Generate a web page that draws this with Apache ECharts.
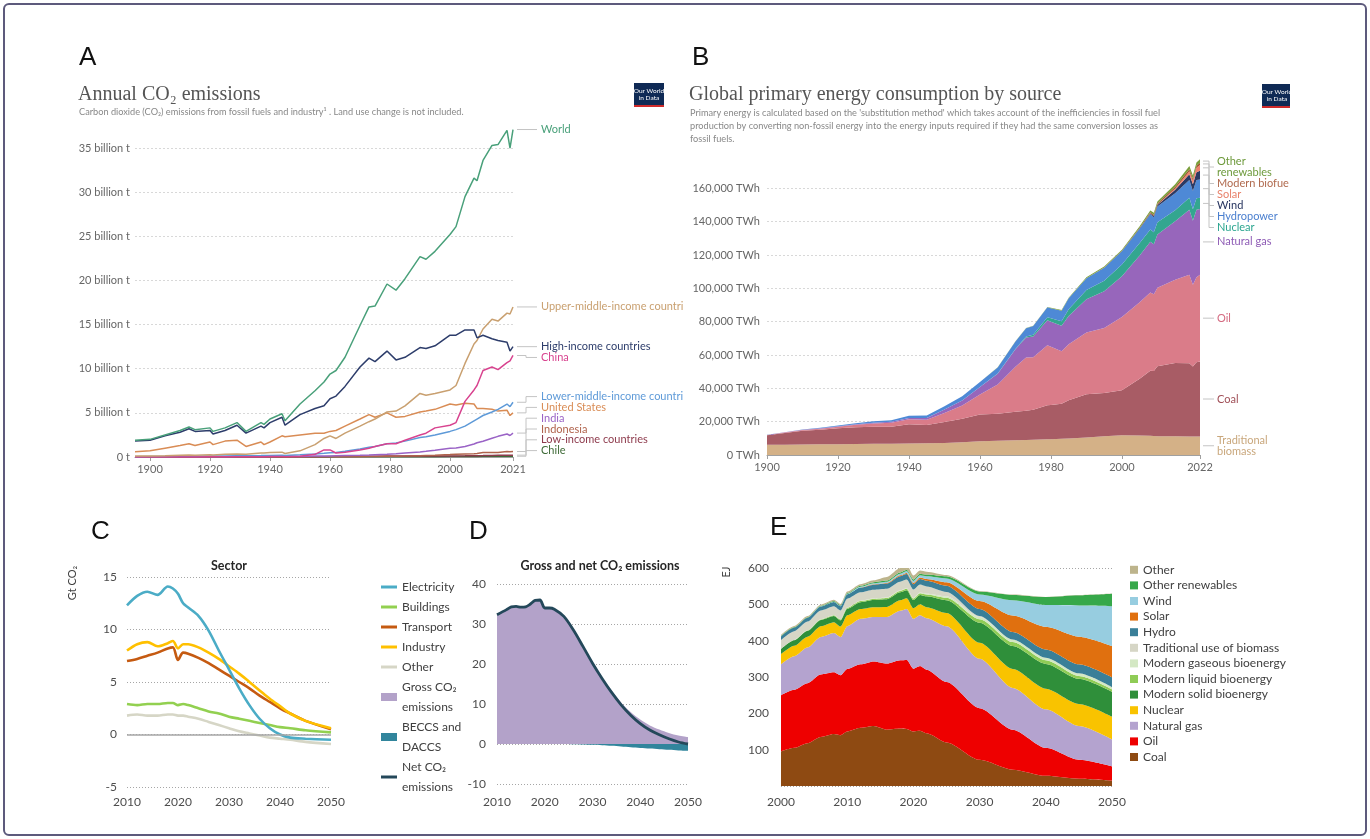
<!DOCTYPE html>
<html><head><meta charset="utf-8">
<script src="https://cdn.jsdelivr.net/npm/echarts@6.0.0/dist/echarts.min.js"></script>
<style>html,body{margin:0;padding:0;background:#fff}#c{width:1370px;height:839px}</style>
</head><body><div id="c"></div>
<script>
// ---------- Panel A: Annual CO2 emissions (billion t) ----------
const aYears = [1895,1900,1905,1910,1913,1915,1920,1921,1925,1929,1932,1937,1938,1940,1944,1945,1950,1955,1958,1960,1962,1965,1970,1973,1975,1979,1982,1985,1990,1992,1995,2000,2002,2005,2008,2009,2011,2014,2016,2019,2020,2021];
const aTicks = [1900,1920,1940,1960,1980,2000,2021];
const aWorld = [1.9,2.0,2.5,3.0,3.4,3.1,3.3,2.9,3.3,3.9,2.9,3.9,3.7,4.3,4.9,4.1,6.0,7.5,8.5,9.4,9.8,11.3,14.9,17.0,17.1,19.6,18.9,20.2,22.7,22.4,23.3,25.2,26.1,29.5,31.6,31.3,33.6,35.3,35.4,37.0,35.0,37.1];
const aHigh = [1.8,1.9,2.4,2.8,3.2,2.9,3.0,2.6,3.0,3.6,2.7,3.5,3.3,3.9,4.5,3.6,4.8,5.5,5.8,6.6,6.9,8.0,10.2,11.2,10.8,12.0,11.0,11.3,12.4,12.3,12.6,13.8,13.8,14.4,14.4,13.5,13.8,13.4,13.2,13.0,12.0,12.5];
const aUpperMid = [0.1,0.12,0.15,0.2,0.22,0.2,0.25,0.22,0.3,0.35,0.3,0.45,0.45,0.5,0.55,0.4,0.7,1.4,2.1,2.4,2.1,2.7,3.5,4.0,4.3,5.1,5.2,5.8,7.2,7.0,7.2,7.6,8.1,10.6,12.8,13.2,14.5,15.6,15.4,16.3,16.2,17.0];
const aUS = [0.6,0.7,1.0,1.3,1.5,1.3,1.7,1.4,1.8,1.9,1.2,1.7,1.4,1.7,2.4,2.3,2.5,2.7,2.7,2.9,3.0,3.5,4.3,4.8,4.5,5.0,4.5,4.6,5.1,5.2,5.4,6.0,5.9,6.1,6.0,5.5,5.5,5.4,5.2,5.3,4.7,5.0];
const aChina = [0,0,0,0,0.01,0.01,0.02,0.02,0.03,0.03,0.03,0.04,0.04,0.05,0.06,0.03,0.08,0.3,0.8,0.8,0.45,0.55,0.8,1.0,1.2,1.5,1.5,1.9,2.5,2.7,3.3,3.6,3.9,6.3,7.6,8.1,9.8,10.2,9.9,10.7,10.9,11.5];
const aLowerMid = [0.04,0.05,0.06,0.08,0.09,0.09,0.1,0.1,0.12,0.14,0.13,0.16,0.17,0.18,0.2,0.18,0.25,0.35,0.42,0.48,0.52,0.65,0.9,1.1,1.2,1.5,1.6,1.8,2.2,2.3,2.5,2.9,3.1,3.5,4.1,4.3,4.7,5.1,5.4,6.0,5.7,6.2];
const aIndia = [0.01,0.02,0.02,0.03,0.03,0.03,0.04,0.04,0.04,0.05,0.05,0.06,0.06,0.07,0.08,0.08,0.07,0.1,0.11,0.12,0.14,0.17,0.2,0.23,0.26,0.32,0.37,0.45,0.58,0.64,0.76,0.98,1.02,1.2,1.47,1.62,1.78,2.12,2.34,2.6,2.44,2.71];
const aIndonesia = [0,0,0,0,0.002,0.002,0.003,0.003,0.004,0.005,0.005,0.006,0.006,0.007,0.005,0.004,0.01,0.015,0.02,0.022,0.023,0.023,0.035,0.05,0.06,0.08,0.09,0.1,0.15,0.17,0.2,0.27,0.3,0.34,0.38,0.4,0.5,0.5,0.52,0.63,0.59,0.62];
const aLowIncome = [0.002,0.002,0.003,0.004,0.005,0.005,0.006,0.006,0.007,0.008,0.008,0.01,0.01,0.012,0.012,0.012,0.02,0.03,0.04,0.045,0.05,0.06,0.08,0.09,0.09,0.1,0.1,0.1,0.11,0.11,0.11,0.12,0.12,0.13,0.15,0.15,0.16,0.18,0.19,0.2,0.2,0.21];
const aChile = [0.002,0.003,0.004,0.005,0.006,0.005,0.006,0.005,0.007,0.009,0.005,0.008,0.008,0.009,0.01,0.01,0.011,0.013,0.014,0.014,0.015,0.018,0.022,0.023,0.02,0.023,0.021,0.02,0.032,0.034,0.04,0.053,0.054,0.06,0.073,0.067,0.079,0.083,0.087,0.088,0.08,0.086];

// ---------- Panel B: Global primary energy consumption (TWh) ----------
const bYears = [1900,1905,1910,1915,1920,1925,1930,1935,1940,1945,1950,1955,1960,1965,1970,1973,1975,1979,1980,1983,1985,1990,1995,2000,2005,2008,2009,2010,2015,2019,2020,2021,2022];
const bTicks = [1900,1920,1940,1960,1980,2000,2022];
const bBiomass = [6100,6200,6300,6400,6500,6600,6700,6800,6900,7000,7200,7700,8300,8600,8900,9000,9100,9400,9500,9700,9900,10500,11200,11800,11700,11500,11400,11300,11200,11100,11100,11100,11100];
const bCoal = [5700,7000,8200,8700,9500,10000,10200,10200,11500,11000,12600,14000,16000,16200,17000,17500,18000,20500,20500,21000,23000,26000,26000,27000,34000,39000,39000,42000,44000,44000,42000,44500,45000];
const bOil = [200,300,500,700,1000,1500,2000,2300,3000,3200,5400,8000,12000,17500,27000,32000,31500,36000,35000,31500,33500,37000,39000,44000,46000,47000,46000,47000,50000,53000,49000,51000,52000];
const bGas = [60,100,150,180,200,300,500,600,800,1000,2100,3000,4500,6500,10500,12000,12500,15000,15000,15300,17000,20000,22000,24500,28000,30500,30000,32000,35000,39000,38500,40500,39500];
const bNuclear = [0,0,0,0,0,0,0,0,0,0,0,0,0,60,250,600,1000,1800,2000,2800,4000,5500,6300,7000,7500,7300,7200,7300,6600,7200,6800,7000,6700];
const bHydro = [50,100,200,300,450,600,800,1000,1300,1500,1900,2500,3000,3700,4500,4900,5300,5900,6000,6300,6600,7000,7800,8000,8600,9100,9100,9500,10200,10700,11000,10900,11000];
const bWind = [0,0,0,0,0,0,0,0,0,0,0,0,0,0,0,0,0,0,0,0,0,10,20,80,260,560,700,900,2200,3500,4000,4600,5300];
const bSolar = [0,0,0,0,0,0,0,0,0,0,0,0,0,0,0,0,0,0,0,0,0,0,0,3,10,30,50,90,700,1800,2200,2700,3400];
const bBiofuels = [0,0,0,0,0,0,0,0,0,0,0,0,0,0,0,0,0,0,0,0,0,80,110,130,300,600,700,800,1000,1200,1100,1200,1300];
const bOtherRen = [0,0,0,0,0,0,0,0,0,0,0,0,0,50,100,150,200,250,300,350,400,500,600,700,900,1100,1150,1250,1600,1900,1950,2000,2100];

// ---------- Panel C: Sector emissions (Gt CO2) ----------
const cYears = [2010,2012,2014,2016,2018,2019,2020,2021,2022,2024,2026,2028,2030,2032,2034,2036,2038,2040,2042,2045,2050];
const cElectricity = [12.3,13.2,13.6,13.3,14.1,13.9,13.4,12.5,12.1,11.3,9.9,8.0,6.2,4.4,2.8,1.5,0.6,0.0,-0.3,-0.4,-0.5];
const cBuildings = [2.9,2.8,2.9,2.9,3.0,3.0,2.8,2.9,2.8,2.5,2.2,2.0,1.7,1.5,1.3,1.1,0.9,0.7,0.6,0.4,0.2];
const cTransport = [7.0,7.2,7.5,7.8,8.2,8.3,7.1,7.8,7.7,7.3,6.8,6.2,5.6,5.0,4.4,3.7,3.1,2.5,2.0,1.3,0.5];
const cIndustry = [8.0,8.6,8.8,8.4,8.7,8.9,8.2,8.6,8.6,8.3,7.8,7.2,6.5,5.8,5.0,4.2,3.4,2.7,2.0,1.3,0.6];
const cOther = [1.8,1.9,1.8,1.8,1.9,1.9,1.8,1.8,1.7,1.5,1.2,0.9,0.6,0.3,0.1,-0.1,-0.3,-0.4,-0.5,-0.7,-0.9];

// ---------- Panel D: Gross and net CO2 emissions (Gt CO2) ----------
const dYears = [2010,2012,2013,2014,2015,2016,2017,2018,2019,2020,2021,2022,2024,2026,2028,2030,2032,2034,2036,2038,2040,2042,2044,2046,2048,2050];
const dGross = [32.3,33.6,34.3,34.4,34.2,34.3,35.0,35.9,36.0,34.0,34.0,33.7,31.9,28.55,24.5,20.4,16.7,13.35,10.4,8.0,6.1,4.65,3.6,2.75,2.1,1.7];
const dBeccs = [0,0,0,0,0,0,0,0,0,0,0,0,0,-0.05,-0.1,-0.2,-0.3,-0.45,-0.6,-0.8,-1.0,-1.15,-1.3,-1.45,-1.6,-1.7];
const dNet = [32.3,33.6,34.3,34.4,34.2,34.3,35.0,35.9,36.0,34.0,34.0,33.7,31.9,28.5,24.4,20.2,16.4,12.9,9.8,7.2,5.1,3.5,2.3,1.3,0.5,0.0];

// ---------- Panel E: Total energy supply (EJ) ----------
const eYears = [2000,2002,2004,2006,2008,2009,2010,2012,2014,2016,2018,2019,2020,2021,2022,2025,2030,2035,2040,2045,2050];
const eCoal = [95,105,118,135,143,140,150,160,165,155,158,157,150,152,145,120,72,45,28,20,15];
const eOil = [155,160,165,172,170,165,172,175,178,182,188,190,173,178,175,166,142,110,77,52,39];
const eGas = [85,92,98,103,108,105,118,125,122,128,136,140,137,140,142,154,136,115,106,93,74];
const eNuclear = [28,29,30,30,30,29,30,27,27,28,29,30,29,30,30,36,44,52,57,61,63];
const eSolidBio = [14,15,16,17,17,17,18,19,20,21,22,22,23,26,30,35,55,63,68,69,68];
const eLiquidBio = [0.5,0.7,1,1.5,2,2.2,2.5,3,3,3.5,4,4,4,4.5,5,7,10,11,10,8,7];
const eGasBio = [0.3,0.4,0.5,0.6,0.8,0.9,1,1.1,1.2,1.3,1.4,1.5,1.5,1.8,2,4,6,7,7,7,6];
const eTradBio = [24,24,24,24,24,24,24,23,24,24,24,24,23,22,20,12,3,0,0,0,0];
const eHydro = [10,10,10.5,11,11.5,11.5,12,13,14,14.5,15,15,15,15.5,16,17,19,21,23,25,27];
const eSolar = [0,0,0,0.05,0.1,0.2,0.3,0.5,1,1.5,2.5,3,3.5,4,5,10,22,45,62,76,86];
const eWind = [0.1,0.2,0.3,0.5,0.8,1,1.3,2,3,3.5,4.5,5,5.5,6,7,10,18,42,60,86,110];
const eOtherRen = [1,1.1,1.3,1.5,1.7,1.8,2,2.5,2.8,3,3.3,3.5,4,4.5,5,6,8,15,22,28,34];
const eOther = [3,3,3,3,3.5,3.5,4,4,5,10,12,14,11,9,8,4,2,1,0.5,0.5,0.5];

// ---------------------------------------------------------------
const FONT = 'Lato';
const pairs = (xs, ys) => xs.map((x, i) => [x, ys[i]]);
// value first, year second: lets the library stack on the value (y) dimension
const stackPairs = (xs, ys) => xs.map((x, i) => [ys[i], x]);
const yearFmt = v => String(v);
const commas = v => String(v).replace(/\B(?=(\d{3})+(?!\d))/g, ',');

const aDefs = [
  {name:'Chile', label:'Chile', vals:aChile, color:'#3f6b38'},
  {name:'Low-income countries', label:'Low-income countries', vals:aLowIncome, color:'#8e3b4d'},
  {name:'Indonesia', label:'Indonesia', vals:aIndonesia, color:'#b0634c'},
  {name:'India', label:'India', vals:aIndia, color:'#9a63c6'},
  {name:'United States', label:'United States', vals:aUS, color:'#d98c55'},
  {name:'Lower-middle-income countries', label:'Lower-middle-income countries', vals:aLowerMid, color:'#5e9ad8'},
  {name:'China', label:'China', vals:aChina, color:'#d8438f'},
  {name:'Upper-middle-income countries', label:'Upper-middle-income countries', vals:aUpperMid, color:'#c9a070'},
  {name:'High-income countries', label:'High-income countries', vals:aHigh, color:'#2d3d6b'},
  {name:'World', label:'World', vals:aWorld, color:'#49a07a'}
];
const bDefs = [
  {name:'B Traditional biomass', label:'Traditional\nbiomass', vals:bBiomass, color:'#d4b187', text:'#c9a77c', lines:2},
  {name:'B Coal', label:'Coal', vals:bCoal, color:'#a85c65', text:'#a04f57', lines:1},
  {name:'B Oil', label:'Oil', vals:bOil, color:'#da7c89', text:'#d46a80', lines:1},
  {name:'B Natural gas', label:'Natural gas', vals:bGas, color:'#9766bb', text:'#8e5bb5', lines:1},
  {name:'B Nuclear', label:'Nuclear', vals:bNuclear, color:'#33a68f', text:'#2aa58f', lines:1},
  {name:'B Hydropower', label:'Hydropower', vals:bHydro, color:'#4e89d6', text:'#4a7fcf', lines:1},
  {name:'B Wind', label:'Wind', vals:bWind, color:'#2b3a64', text:'#26335e', lines:1},
  {name:'B Solar', label:'Solar', vals:bSolar, color:'#f0826e', text:'#e8826b', lines:1},
  {name:'B Modern biofuels', label:'Modern biofuels', vals:bBiofuels, color:'#a0522d', text:'#b06a4e', lines:1},
  {name:'B Other renewables', label:'Other\nrenewables', vals:bOtherRen, color:'#7a9e3a', text:'#6e9a3c', lines:2}
];
const cDefs = [
  {name:'Other', vals:cOther, color:'#d6d6c6'},
  {name:'Buildings', vals:cBuildings, color:'#92d050'},
  {name:'Transport', vals:cTransport, color:'#c55a11'},
  {name:'Industry', vals:cIndustry, color:'#ffc000'},
  {name:'Electricity', vals:cElectricity, color:'#4bacc6'}
];
const eDefs = [
  {name:'Coal', vals:eCoal, color:'#8e4a12'},
  {name:'Oil', vals:eOil, color:'#ee0000'},
  {name:'Natural gas', vals:eGas, color:'#b4a3cf'},
  {name:'Nuclear', vals:eNuclear, color:'#f9c300'},
  {name:'Modern solid bioenergy', vals:eSolidBio, color:'#2f8f3a'},
  {name:'Modern liquid bioenergy', vals:eLiquidBio, color:'#8fcc56'},
  {name:'Modern gaseous bioenergy', vals:eGasBio, color:'#d4e8c4'},
  {name:'Traditional use of biomass', vals:eTradBio, color:'#d6d6c6'},
  {name:'Hydro', vals:eHydro, color:'#3a7f98'},
  {name:'Solar', vals:eSolar, color:'#e0700f'},
  {name:'Wind', vals:eWind, color:'#97cde0'},
  {name:'Other renewables', vals:eOtherRen, color:'#36a84a'},
  {name:'Other', vals:eOther, color:'#bdb48c'}
];

const dotted = c => ({show:true, lineStyle:{color:c, type:[1,2], width:1}});
const grids = [
  {left:135, top:126, width:378, height:331},
  {left:767, top:155, width:433, height:300},
  {left:127, top:577, width:204, height:210},
  {left:497, top:584, width:191, height:200},
  {left:781, top:568, width:331, height:218}
].map(g => Object.assign({containLabel:false, outerBoundsMode:'none'}, g));

const owidX = (gi, min, max, ticks) => ({
  gridIndex:gi, type:'value', min, max,
  axisLine:{show:true, lineStyle:{color:'#a0a0a0'}},
  axisTick:{show:true, length:4, lineStyle:{color:'#a0a0a0'}, customValues:ticks},
  axisLabel:{customValues:ticks, color:'#666', fontSize:11, margin:7, formatter:yearFmt},
  splitLine:{show:false}
});
const xlsX = (gi, min, max, margin) => ({
  gridIndex:gi, type:'value', min, max, interval:10,
  axisLine:{show:false}, axisTick:{show:false},
  axisLabel:{color:'#4d4d4d', fontSize:12, margin, formatter:yearFmt},
  splitLine:{show:false}
});
const xlsY = (gi, min, max, interval, margin, extra) => Object.assign({
  gridIndex:gi, type:'value', min, max, interval,
  axisLine:{show:false}, axisTick:{show:false},
  axisLabel:{color:'#4d4d4d', fontSize:12, margin},
  splitLine:dotted('#a6a6a6')
}, extra || {});

const series = [];
aDefs.forEach(d => series.push({
  name:d.name, type:'line', xAxisIndex:0, yAxisIndex:0, data:pairs(aYears, d.vals),
  symbol:'none', showSymbol:false, lineStyle:{width:1.5, color:d.color}, itemStyle:{color:d.color}, silent:true
}));
bDefs.forEach(d => series.push({
  name:d.name, type:'line', xAxisIndex:1, yAxisIndex:1, stack:'B', data:stackPairs(bYears, d.vals), encode:{x:1, y:0},
  symbol:'none', showSymbol:false, lineStyle:{width:0}, areaStyle:{color:d.color, opacity:1}, itemStyle:{color:d.color}, silent:true
}));
cDefs.forEach((d, i) => series.push(Object.assign({
  name:d.name, type:'line', xAxisIndex:2, yAxisIndex:2, data:pairs(cYears, d.vals), smooth:0.3,
  symbol:'none', showSymbol:false, lineStyle:{width:2.6, color:d.color}, itemStyle:{color:d.color}, silent:true
}, i === 0 ? {markLine:{silent:true, symbol:'none', label:{show:false}, lineStyle:{color:'#a6a6a6', width:1.5, type:'solid'}, data:[{yAxis:0}]}} : {})));
series.push({name:'Gross CO₂ emissions', type:'line', xAxisIndex:3, yAxisIndex:3, data:pairs(dYears, dGross), smooth:0.3,
  symbol:'none', lineStyle:{width:0}, areaStyle:{color:'#b3a2c9', opacity:1}, itemStyle:{color:'#b3a2c9'}, silent:true});
series.push({name:'BECCS and DACCS', type:'line', xAxisIndex:3, yAxisIndex:3, data:pairs(dYears, dBeccs), smooth:0.3,
  symbol:'none', lineStyle:{width:0}, areaStyle:{color:'#31859c', opacity:1}, itemStyle:{color:'#31859c'}, silent:true});
series.push({name:'Net CO₂ emissions', type:'line', xAxisIndex:3, yAxisIndex:3, data:pairs(dYears, dNet), smooth:0.3,
  symbol:'none', lineStyle:{width:2.8, color:'#24485a'}, itemStyle:{color:'#24485a'}, silent:true});
eDefs.forEach(d => series.push({
  name:'E|' + d.name, type:'line', xAxisIndex:4, yAxisIndex:4, stack:'E', data:stackPairs(eYears, d.vals), encode:{x:1, y:0},
  smooth:0.25, smoothMonotone:'x',
  symbol:'none', showSymbol:false, lineStyle:{width:0}, areaStyle:{color:d.color, opacity:1}, itemStyle:{color:d.color}, silent:true
}));

const lineIcon = 'path://M0,0h16v3h-16z';
const boxIcon = 'path://M0,0h16v8h-16z';
const cdLegend = [
  ['Electricity', '#4bacc6', lineIcon], ['Buildings', '#92d050', lineIcon], ['Transport', '#c55a11', lineIcon],
  ['Industry', '#ffc000', lineIcon], ['Other', '#d6d6c6', lineIcon], ['Gross CO₂ emissions', '#b3a2c9', boxIcon],
  ['BECCS and DACCS', '#31859c', boxIcon], ['Net CO₂ emissions', '#24485a', lineIcon]
];
const cdLegendText = {'Gross CO₂ emissions':'Gross CO₂\nemissions', 'BECCS and DACCS':'BECCS and\nDACCS', 'Net CO₂ emissions':'Net CO₂\nemissions'};
const eLegendOrder = ['Other','Other renewables','Wind','Solar','Hydro','Traditional use of biomass','Modern gaseous bioenergy','Modern liquid bioenergy','Modern solid bioenergy','Nuclear','Natural gas','Oil','Coal'];

const option = {
  animation:false,
  textStyle:{fontFamily:FONT},
  grid:grids,
  xAxis:[ owidX(0, 1895, 2021, aTicks), owidX(1, 1900, 2022, bTicks), xlsX(2, 2010, 2050, 9), xlsX(3, 2010, 2050, 12), xlsX(4, 2000, 2050, 10) ],
  yAxis:[
    {gridIndex:0, type:'value', min:0, max:37.5, interval:5, axisLine:{show:false}, axisTick:{show:false},
     axisLabel:{color:'#666', fontSize:11, margin:5, showMaxLabel:false, formatter:v => v === 0 ? '0 t' : v + ' billion t'},
     splitLine:{show:true, showMaxLine:false, showMinLine:false, lineStyle:{color:'#d8d8d8', type:[2,2]}}},
    {gridIndex:1, type:'value', min:0, max:180000, interval:20000, axisLine:{show:false}, axisTick:{show:false},
     axisLabel:{color:'#666', fontSize:11, margin:7, showMaxLabel:false, formatter:v => commas(v) + ' TWh'},
     splitLine:{show:true, showMaxLine:false, showMinLine:false, lineStyle:{color:'#d8d8d8', type:[2,2]}}},
    xlsY(2, -5, 15, 5, 10),
    xlsY(3, -10, 40, 10, 11),
    xlsY(4, 0, 600, 100, 12, {axisLabel:{color:'#4d4d4d', fontSize:12, margin:12, showMinLabel:false}})
  ],
  legend:[
    {orient:'vertical', left:381, top:577, padding:0, itemWidth:16, itemHeight:10, itemGap:0, selectedMode:false,
     textStyle:{fontFamily:FONT, fontSize:12, color:'#404040', lineHeight:20},
     formatter:n => cdLegendText[n] || n,
     data:cdLegend.map(([name, color, icon]) => ({name, icon, itemStyle:{color, borderWidth:0}}))},
    {orient:'vertical', left:1130, top:562, padding:0, itemWidth:8, itemHeight:8, itemGap:0, selectedMode:false,
     textStyle:{fontFamily:FONT, fontSize:12, color:'#404040', lineHeight:15.6},
     formatter:n => n.replace(/^E\|/, ''),
     data:eLegendOrder.map(name => ({name:'E|' + name, icon:'rect', itemStyle:{color:eDefs.find(d => d.name === name).color, borderWidth:0}}))}
  ],
  series
};

const chart = echarts.init(document.getElementById('c'));
chart.setOption(option);

// ---------- labels at series ends (positions from the chart's own scales) ----------
function placeLabels(items, lh, minTop, maxBottom) {
  items.sort((a, b) => a.y - b.y);
  let prev = minTop;
  items.forEach(it => { const h = it.lines * lh; it.top = Math.max(it.y - h / 2, prev); prev = it.top + h; });
  let next = maxBottom;
  for (let i = items.length - 1; i >= 0; i--) {
    const it = items[i], h = it.lines * lh;
    if (it.top + h > next) it.top = next - h;
    next = it.top;
  }
  return items;
}
const gfx = [];
const T = (x, y, text, style, extra) => gfx.push(Object.assign({type:'text', x, y, silent:true, style:Object.assign({text, fill:'#333', font:'12px ' + FONT}, style)}, extra || {}));

// frame
gfx.push({type:'rect', silent:true, shape:{x:4, y:4, width:1362, height:831, r:5}, style:{fill:null, stroke:'#5d5a7c', lineWidth:2}});
// panel letters
[['A', 79, 58], ['B', 692, 58], ['C', 91, 532], ['D', 469, 532], ['E', 770, 528]].forEach(([t, x, y]) =>
  T(x, y, t, {font:'26px "Liberation Sans"', fill:'#111', verticalAlign:'middle'}));
// OWID titles
T(78, 95, 'Annual CO₂ emissions', {font:'20px "Liberation Serif"', fill:'#555', verticalAlign:'middle'});
T(79, 112, 'Carbon dioxide (CO₂) emissions from fossil fuels and industry¹ . Land use change is not included.', {font:'9.2px ' + FONT, fill:'#888', verticalAlign:'middle'});
T(689, 95, 'Global primary energy consumption by source', {font:'20px "Liberation Serif"', fill:'#555', verticalAlign:'middle'});
T(690, 107, "Primary energy is calculated based on the 'substitution method' which takes account of the inefficiencies in fossil fuel\nproduction by converting non-fossil energy into the energy inputs required if they had the same conversion losses as\nfossil fuels.", {font:'9.2px ' + FONT, fill:'#888', verticalAlign:'top', lineHeight:13});
// OWID logos
[[634, 83, 30], [1262, 84, 28]].forEach(([x, y, w]) => {
  gfx.push({type:'rect', silent:true, shape:{x, y, width:w, height:22}, style:{fill:'#0f2a55'}});
  gfx.push({type:'rect', silent:true, shape:{x, y:y + 22, width:w, height:2}, style:{fill:'#cf2a2a'}});
  T(x + 15, y + 11, 'Our World\nin Data', {font:'6.5px ' + FONT, fill:'#fff', align:'center', verticalAlign:'middle', lineHeight:7});
});
// Excel-style panel titles / axis names
T(229, 566, 'Sector', {font:'bold 12.5px ' + FONT, fill:'#262626', align:'center', verticalAlign:'middle'});
T(600, 566, 'Gross and net CO₂ emissions', {font:'bold 12.5px ' + FONT, fill:'#262626', align:'center', verticalAlign:'middle'});
T(72, 583, 'Gt CO₂', {font:'11px ' + FONT, fill:'#404040', align:'center', verticalAlign:'middle'}, {rotation:Math.PI / 2});
T(726, 572, 'EJ', {font:'11px ' + FONT, fill:'#404040', align:'center', verticalAlign:'middle'}, {rotation:Math.PI / 2});

// Panel A end labels
const aLast = aYears[aYears.length - 1];
const aItems = aDefs.map(d => {
  const p = chart.convertToPixel({xAxisIndex:0, yAxisIndex:0}, [aLast, d.vals[d.vals.length - 1]]);
  return {px:p[0], y:p[1], lines:1, text:d.label, color:d.color};
});
placeLabels(aItems, 10.8, -Infinity, 456);
aItems.forEach(it => {
  const ly = it.top + 5.4, lx = it.px + 28, mx = it.px + 13;
  gfx.push({type:'polyline', silent:true, shape:{points:[[it.px + 4, it.y], [mx, it.y], [mx, ly], [lx - 4, ly]]}, style:{stroke:'#c4c4c4', lineWidth:1, fill:null}});
  T(lx, it.top, it.text, {font:'11px ' + FONT, fill:it.color, verticalAlign:'top', lineHeight:10.8, width:146, overflow:'truncate', ellipsis:''});
});
// Panel B end labels (middle of each layer)
const bLast = bYears[bYears.length - 1];
let cum = 0;
const bItems = bDefs.map(d => {
  const v = d.vals[d.vals.length - 1];
  const p = chart.convertToPixel({xAxisIndex:1, yAxisIndex:1}, [bLast, cum + v / 2]);
  cum += v;
  return {px:p[0], y:p[1], lines:d.lines, text:d.label, color:d.text};
});
placeLabels(bItems, 11, 156, 462);
bItems.forEach(it => {
  const ly = it.top + it.lines * 11 / 2, lx = it.px + 17, mx = it.px + 9;
  gfx.push({type:'polyline', silent:true, shape:{points:[[it.px + 3, it.y], [mx, it.y], [mx, ly], [lx - 3, ly]]}, style:{stroke:'#c4c4c4', lineWidth:1, fill:null}});
  T(lx, it.top, it.text, {font:'11px ' + FONT, fill:it.color, verticalAlign:'top', lineHeight:11, width:73, overflow:'truncate', ellipsis:''});
});

chart.setOption({graphic:{elements:gfx}});
</script></body></html>
